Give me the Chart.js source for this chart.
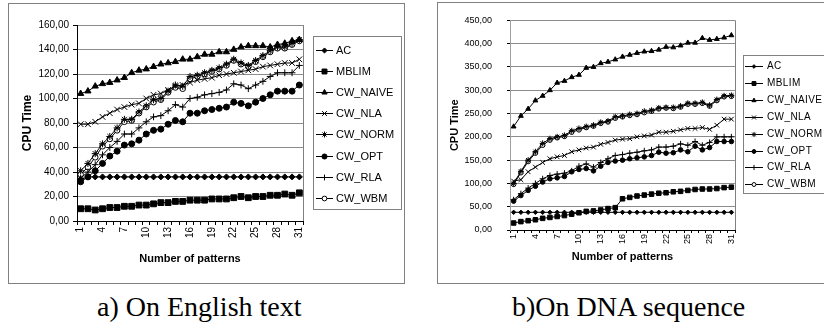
<!DOCTYPE html>
<html><head><meta charset="utf-8">
<script src="https://cdn.jsdelivr.net/npm/chart.js@4.4.1/dist/chart.umd.min.js"></script>
<style>
html,body{margin:0;padding:0;background:#fff;width:824px;height:329px;overflow:hidden;position:relative}
.box{position:absolute;border:1px solid #808080;box-sizing:border-box}
canvas{position:absolute;top:0}
.cap{position:absolute;top:291px;font-family:"Liberation Serif",serif;font-size:28px;line-height:32px;white-space:nowrap;color:#000}
</style></head><body>
<div class="box" style="left:8px;top:3px;width:397px;height:281px"></div>
<div class="box" style="left:437px;top:2px;width:400px;height:282px"></div>
<canvas id="c1" width="412" height="290" style="left:0"></canvas>
<canvas id="c2" width="412" height="290" style="left:412px"></canvas>
<div class="cap" style="left:97px">a) On English text</div>
<div class="cap" style="left:512px">b)On DNA sequence</div>
<script>
// ---------- data ----------
const patterns = ['1','2','3','4','5','6','7','8','9','10','11','12','13','14','15','16','17','18','19','20','21','22','23','24','25','26','27','28','29','30','31'];
const seriesNames = ['AC','MBLIM','CW_NAIVE','CW_NLA','CW_NORM','CW_OPT','CW_RLA','CW_WBM'];
const yTicksEnglish = [0,20,40,60,80,100,120,140,160];
const yTicksDNA = [0,50,100,150,200,250,300,350,400,450];

// a) English text
const enAC      = [34,36,36,36,36,36,36,36,36,36,36,36,36,36,36,36,36,36,36,36,36,36,36,36,36,36,36,36,36,36,36];
const enMBLIM   = [10,10,9,10,11,11,12,12,13,13,14,15,15,16,16,17,17,17,18,18,18,19,20,19,20,20,21,21,22,21,23];
const enNAIVE   = [104,106,110,112,113,115,117,121,123,124,126,128,129,130,132,132,134,136,136,138,138,140,142,143,143,143,142,144,145,147,148];
const enNLA     = [79,79,81,85,88,91,93,95,96,100,103,104,107,110,111,113,115,116,117,119,120,121,122,123,124,126,127,128,129,129,132];
const enNORM    = [41,47,55,63,69,76,83,83,89,94,99,100,106,111,110,118,119,121,123,125,128,132,129,127,131,135,139,142,142,145,148];
const enOPT     = [32,36,41,47,53,57,62,63,66,71,74,75,79,82,81,88,88,90,91,92,93,97,96,94,97,100,103,106,106,106,111];
const enRLA     = [35,40,46,54,60,65,71,71,76,81,85,86,90,95,93,100,101,103,104,105,107,112,111,108,111,114,118,121,121,121,127];
const enWBM     = [38,44,52,61,67,74,81,82,88,93,97,99,105,109,108,116,118,120,122,124,127,131,128,126,130,134,138,141,141,144,147];

// b) DNA sequence
const dnaAC     = [38,38,38,38,38,38,38,38,38,38,38,38,38,38,38,38,38,38,38,38,38,38,38,38,38,38,38,38,38,38,38];
const dnaMBLIM  = [15,18,20,22,25,27,29,31,34,37,40,41,43,46,48,67,70,73,75,77,79,80,82,83,85,87,88,88,89,91,92];
const dnaNAIVE  = [222,245,260,278,288,300,316,320,328,333,348,350,358,361,366,372,376,380,383,384,387,393,392,396,402,402,412,408,410,413,418];
const dnaNLA    = [105,108,125,135,145,153,157,160,168,172,176,178,184,188,193,195,196,200,202,204,210,210,212,215,218,218,220,216,225,238,238];
const dnaNORM   = [100,126,150,168,186,196,200,203,213,218,222,225,231,234,243,245,248,250,255,257,262,263,263,266,272,272,274,268,280,288,289];
const dnaOPT    = [62,74,85,94,103,110,112,115,125,130,132,127,137,145,148,150,153,155,157,160,167,165,166,172,168,180,172,177,190,190,190];
const dnaRLA    = [65,78,90,100,110,117,120,122,127,137,142,135,145,153,160,162,165,167,170,172,178,178,180,185,182,190,182,188,200,200,200];
const dnaWBM    = [98,123,147,165,182,193,198,201,210,215,220,223,229,232,240,243,246,248,252,255,260,262,261,264,270,270,272,266,278,286,287];

// ---------- styles ----------
const markStyle = {
  AC:{ps:'rectRot',fill:'#000',r1:3,r2:2.2},
  MBLIM:{ps:'rect',fill:'#000',r1:4.1,r2:3.2},
  CW_NAIVE:{ps:'triangle',fill:'#000',r1:3.6,r2:2.8},
  CW_NLA:{ps:'crossRot',fill:'#000',r1:4,r2:3.3},
  CW_NORM:{ps:'star',fill:'#000',r1:3.5,r2:3},
  CW_OPT:{ps:'circle',fill:'#000',r1:3,r2:2.3},
  CW_RLA:{ps:'cross',fill:'#000',r1:3.4,r2:3},
  CW_WBM:{ps:'circle',fill:'#fff',r1:2.8,r2:2.3}
};

function makeDatasets(values, which){
  return seriesNames.map((n,i)=>{
    const st = markStyle[n];
    return {
      label:n, data:values[i], borderColor:'#000', backgroundColor:st.fill,
      borderWidth:1, pointStyle:st.ps, pointRadius:st[which], pointBorderWidth:1,
      pointBorderColor:'#000', pointBackgroundColor:st.fill, tension:0, fill:false
    };
  });
}

function drawMark(ctx, st, x, y, r){
  ctx.save();
  ctx.fillStyle = st.fill; ctx.strokeStyle = '#000'; ctx.lineWidth = 1;
  if (Chart.helpers && Chart.helpers.drawPoint) {
    Chart.helpers.drawPoint(ctx, {pointStyle:st.ps, radius:r, rotation:0, borderWidth:1}, x, y);
  } else {
    ctx.beginPath(); ctx.arc(x,y,r,0,Math.PI*2); ctx.fill(); ctx.stroke();
  }
  ctx.restore();
}

function legendPlugin(cfg){
  return {
    id:'boxLegend',
    afterDraw(chart){
      const ctx = chart.ctx;
      ctx.save();
      ctx.strokeStyle = '#808080'; ctx.lineWidth = 1;
      ctx.strokeRect(cfg.x+0.5, cfg.y+0.5, cfg.w, cfg.h);
      ctx.font = cfg.font; ctx.fillStyle = '#000'; ctx.textBaseline = 'middle'; ctx.textAlign='left';
      if ('letterSpacing' in ctx) ctx.letterSpacing = cfg.ls;
      chart.data.datasets.forEach((ds,i)=>{
        const y = Math.round(cfg.y0 + i*cfg.dy) + 0.5;
        ctx.strokeStyle = '#000';
        ctx.beginPath(); ctx.moveTo(cfg.lx0, y); ctx.lineTo(cfg.lx1, y); ctx.stroke();
        drawMark(ctx, markStyle[ds.label], (cfg.lx0+cfg.lx1)/2, y, markStyle[ds.label][cfg.which]*0.85);
        ctx.fillStyle = '#000';
        ctx.fillText(ds.label, cfg.tx, y);
      });
      ctx.restore();
    }
  };
}

const rightBorder = {
  id:'rightBorder',
  beforeDatasetsDraw(chart){
    const a = chart.chartArea, ctx = chart.ctx;
    ctx.save(); ctx.strokeStyle = '#808080'; ctx.lineWidth = 1;
    ctx.beginPath(); ctx.moveTo(Math.round(a.right)+0.5, a.top); ctx.lineTo(Math.round(a.right)+0.5, a.bottom); ctx.stroke();
    ctx.restore();
  }
};

function makeChart(id, values, yTicks, p){
  const ymax = yTicks[yTicks.length-1], step = yTicks[1]-yTicks[0];
  return new Chart(document.getElementById(id), {
    type:'line',
    data:{labels:patterns, datasets:makeDatasets(values, p.which)},
    options:{
      responsive:false, animation:false, devicePixelRatio:1,
      layout:{padding:{left:10, right:p.padR, top:p.padT, bottom:0}},
      plugins:{legend:{display:false}, tooltip:{enabled:false}},
      scales:{
        x:{
          type:'category', offset:true,
          grid:{offset:true, drawOnChartArea:false, drawTicks:true, tickLength:p.tl, tickColor:'#000', color:'#000'},
          border:{color:'#000', width:1},
          ticks:{autoSkip:false, maxRotation:90, minRotation:90, padding:p.xtp, color:'#000',
                 font:{family:'Liberation Sans, Arial', size:p.fs},
                 callback:(v,i)=> (i%3===0 ? patterns[i] : '')},
          title:{display:true, text:'Number of patterns', color:'#000',
                 font:{family:'Liberation Sans, Arial', size:11, weight:'bold'},
                 padding:{top:0, bottom:p.xtpb}},
          afterFit(s){ s.height = p.xH; }
        },
        y:{
          min:0, max:ymax,
          ticks:{stepSize:step, padding:p.ytp, color:'#000',
                 font:{family:'Liberation Sans, Arial', size:p.fs},
                 callback:v=> Number(v).toFixed(2).replace('.',',')},
          grid:{color:'#8c8c8c', tickLength:p.tl, tickColor:'#000'},
          border:{color:p.yAxisColor, width:1},
          title:{display:true, text:'CPU Time', color:'#000',
                 font:{family:'Liberation Sans, Arial', size:p.ytfs, weight:'bold'},
                 padding:{top:p.ytpt, bottom:0}},
          afterFit(s){ s.width = p.yW; }
        }
      }
    },
    plugins:[rightBorder, legendPlugin(p.legend)]
  });
}

makeChart('c1', [enAC,enMBLIM,enNAIVE,enNLA,enNORM,enOPT,enRLA,enWBM], yTicksEnglish, {
  which:'r1', padR:109, padT:25, xH:69, yW:67, fs:10, tl:4, xtp:2, ytp:4,
  ytfs:12, ytpt:10.8, xtpb:24.4, yAxisColor:'#000',
  legend:{x:313, y:36, w:88, h:173, y0:50, dy:21.1, lx0:316, lx1:333, tx:336,
          font:'11px "Liberation Sans", Arial', ls:'0px', which:'r1'}
});

makeChart('c2', [dnaAC,dnaMBLIM,dnaNAIVE,dnaNLA,dnaNORM,dnaOPT,dnaRLA,dnaWBM], yTicksDNA, {
  which:'r2', padR:89, padT:18, xH:60, yW:88, fs:9, tl:3, xtp:1, ytp:15,
  ytfs:11, ytpt:26.4, xtpb:26.4, yAxisColor:'#a0a0a0',
  legend:{x:331, y:55, w:100, h:138, y0:66, dy:16.9, lx0:333, lx1:351, tx:355,
          font:'10px "Liberation Sans", Arial', ls:'0.4px', which:'r2'}
});
</script>
</body></html>
